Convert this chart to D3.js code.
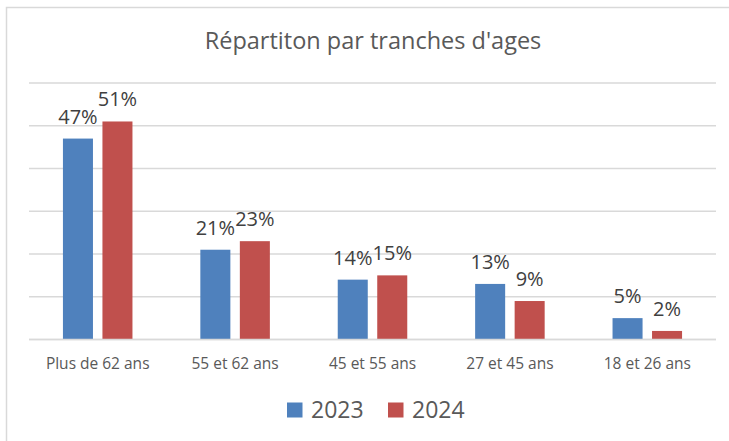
<!DOCTYPE html>
<html>
<head>
<meta charset="utf-8">
<script src="https://cdn.jsdelivr.net/npm/d3@7"></script>
<style>
  html, body { margin: 0; padding: 0; background: #fff; }
  svg { display: block; font-family: "Open Sans", "Noto Sans", sans-serif; }
</style>
</head>
<body>
<svg id="chart" width="729" height="441"></svg>
<script>
const title = "Répartiton par tranches d'ages";
const categories = ["Plus de 62 ans", "55 et 62 ans", "45 et 55 ans", "27 et 45 ans", "18 et 26 ans"];
const seriesNames = ["2023", "2024"];
const values2023 = [0.47, 0.21, 0.14, 0.13, 0.05];
const values2024 = [0.51, 0.23, 0.15, 0.09, 0.02];
const yTicks = [0, 0.1, 0.2, 0.3, 0.4, 0.5, 0.6];
const colors = ["#4F81BD", "#C0504D"];

const seriesValues = [values2023, values2024];
const svg = d3.select("#chart");

// chart border (clipped on right & bottom like the reference)
svg.append("rect")
  .attr("x", 6.5).attr("y", 7.5)
  .attr("width", 760).attr("height", 460)
  .attr("fill", "#fff").attr("stroke", "#D9D9D9").attr("stroke-width", 1.5);

const plot = { left: 29, right: 716, top: 83, bottom: 339.5 };

const y = d3.scaleLinear().domain([0, 0.6]).range([plot.bottom, plot.top]);
const x0 = d3.scaleBand().domain(categories).range([plot.left, plot.right])
  .paddingInner(0.494).paddingOuter(0.247);
const x1 = d3.scaleBand().domain(seriesNames).range([0, x0.bandwidth()])
  .paddingInner(0.24).paddingOuter(0);

// gridlines
svg.append("g").selectAll("line").data(yTicks).join("line")
  .attr("x1", plot.left).attr("x2", plot.right)
  .attr("y1", d => y(d)).attr("y2", d => y(d))
  .attr("stroke", "#D9D9D9").attr("stroke-width", 1.3);

// bars
const groups = svg.append("g").selectAll("g").data(categories).join("g")
  .attr("transform", d => `translate(${x0(d)},0)`);

const fmt = d3.format(".0%");
groups.each(function (cat, i) {
  const g = d3.select(this);
  seriesNames.forEach((s, j) => {
    const v = seriesValues[j][i];
    g.append("rect")
      .attr("x", x1(s)).attr("width", x1.bandwidth())
      .attr("y", y(v)).attr("height", y(0) - y(v))
      .attr("fill", colors[j]);
    g.append("text")
      .attr("x", x1(s) + x1.bandwidth() / 2)
      .attr("y", y(v) - 15)
      .attr("text-anchor", "middle")
      .attr("font-size", 20)
      .attr("fill", "#404040")
      .text(fmt(v));
  });
});

// baseline
svg.append("line")
  .attr("x1", plot.left).attr("x2", plot.right)
  .attr("y1", y(0)).attr("y2", y(0))
  .attr("stroke", "#D9D9D9").attr("stroke-width", 1.5);

// category axis labels
const xAxis = d3.axisBottom(x0).tickSize(0).tickPadding(0);
const ax = svg.append("g").attr("transform", `translate(0,${plot.bottom})`).call(xAxis);
ax.attr("font-family", null).attr("font-size", null);
ax.select(".domain").remove();
ax.selectAll("text")
  .attr("dy", null).attr("y", 29)
  .attr("font-size", 15.5)
  .attr("fill", "#595959");

// title
svg.append("text")
  .attr("x", 373).attr("y", 48.5)
  .attr("text-anchor", "middle")
  .attr("font-size", 23.5)
  .attr("fill", "#595959")
  .text(title);

// legend
const legendX = [287, 388];
const legend = svg.append("g").selectAll("g").data(seriesNames).join("g")
  .attr("transform", (d, i) => `translate(${legendX[i]},0)`);
legend.append("rect")
  .attr("x", 0).attr("y", 402.5).attr("width", 15.5).attr("height", 15)
  .attr("fill", (d, i) => colors[i]);
legend.append("text")
  .attr("x", 24).attr("y", 417.5)
  .attr("font-size", 23)
  .attr("fill", "#595959")
  .text(d => d);
</script>
</body>
</html>
